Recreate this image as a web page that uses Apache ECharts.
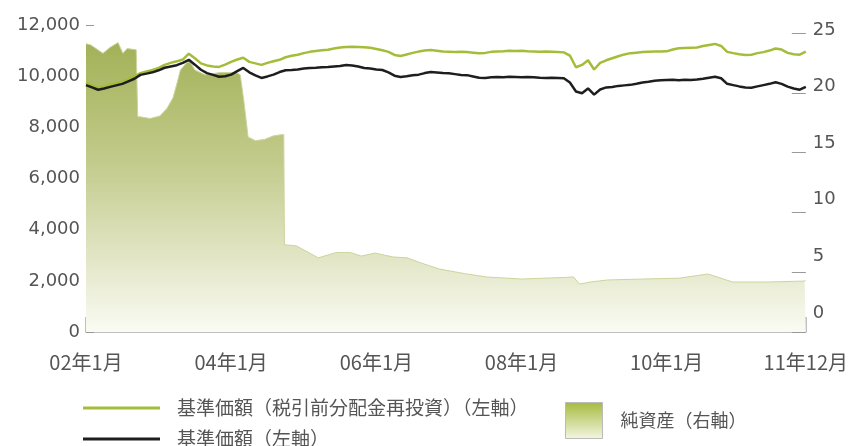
<!DOCTYPE html>
<html>
<head>
<meta charset="utf-8">
<script src="https://cdn.jsdelivr.net/npm/echarts@6/dist/echarts.min.js"></script>
<style>
  html, body { margin: 0; padding: 0; background: #fff; }
  #chart { width: 851px; height: 446px; }
</style>
</head>
<body>
<div id="chart"></div>
<script>
  // 横軸：2002年1月 = 0 … 2011年12月 = 119（月番号）
  const xTickMonths = [0, 24, 48, 72, 96, 119];
  const xTickLabels = ['02年1月', '04年1月', '06年1月', '08年1月', '10年1月', '11年12月'];
  const rightTicks = [0, 5, 10, 15, 20, 25];

  // 基準価額（税引前分配金再投資）月次
  const navReinvest = [
    9750, 9640, 9550, 9600, 9680, 9720, 9780, 9880, 9980, 10120, 10180, 10240,
    10320, 10440, 10520, 10580, 10650, 10880, 10700, 10500, 10420, 10380, 10360, 10450,
    10560, 10650, 10720, 10560, 10500, 10440, 10520, 10580, 10640, 10740, 10800, 10840,
    10900, 10950, 10980, 11010, 11030, 11080, 11120, 11140, 11150, 11140, 11130, 11110,
    11060, 11010, 10950, 10830, 10790, 10850, 10910, 10960, 11000, 11020, 10990, 10960,
    10950, 10940, 10950, 10940, 10920, 10900, 10910, 10950, 10960, 10970, 10990, 10980,
    10990, 10970, 10960, 10950, 10960, 10950, 10940, 10930, 10800, 10350, 10440, 10620,
    10260, 10520, 10620, 10700, 10780, 10850, 10900, 10920, 10940, 10950, 10960, 10960,
    10970, 11040, 11090, 11100, 11110, 11120, 11180, 11220, 11260, 11180, 10950, 10900,
    10860, 10830, 10840, 10900, 10940, 11000, 11080, 11040, 10910, 10860, 10840, 10960
  ];

  // 基準価額 月次
  const nav = [
    9650, 9560, 9470, 9520, 9580, 9640, 9700, 9800, 9900, 10050, 10100, 10150,
    10230, 10330, 10380, 10430, 10520, 10640, 10450, 10250, 10120, 10050, 9980, 10000,
    10060, 10200, 10320, 10150, 10030, 9930, 9990, 10060, 10160, 10230, 10240, 10260,
    10300, 10320, 10330, 10350, 10360, 10380, 10400, 10440, 10420, 10380, 10320, 10300,
    10260, 10240, 10150, 10020, 9970, 10000, 10040, 10060, 10120, 10160, 10140, 10120,
    10110, 10080, 10050, 10040, 9990, 9940, 9930, 9960, 9970, 9960, 9980, 9970,
    9960, 9970, 9960, 9940, 9930, 9940, 9930, 9920, 9750, 9400, 9330, 9520,
    9280, 9480, 9560, 9580, 9620, 9640, 9660, 9700, 9750, 9780, 9820, 9840,
    9850, 9860, 9840, 9860, 9850, 9870, 9900, 9940, 9980, 9920, 9700, 9650,
    9600, 9560, 9550, 9600, 9650, 9700, 9760, 9700, 9590, 9520, 9470, 9580
  ];

  // 純資産（右軸） [月番号, 値]
  const netAssets = [
    [0, 24.1], [0.8, 24.0], [2.8, 23.3], [4.0, 23.8], [5.3, 24.2], [6.1, 23.3],
    [6.8, 23.7], [8.3, 23.6], [8.5, 23.6], [8.55, 18.0], [8.9, 18.0], [10.6, 17.85],
    [12.2, 18.06], [13.4, 18.7], [14.4, 19.6], [15.1, 20.9], [15.6, 21.9], [16.6, 22.5],
    [17.2, 22.6], [18.0, 21.9], [19.7, 21.5], [22.2, 21.7], [24.8, 21.7], [25.5, 21.5],
    [26.1, 19.3], [26.8, 16.3], [28.0, 16.0], [29.5, 16.1], [31.0, 16.4], [32.3, 16.5],
    [32.7, 16.5], [32.8, 7.3], [34.8, 7.2], [38.4, 6.2], [41.4, 6.65], [43.7, 6.65],
    [45.5, 6.35], [47.8, 6.6], [50.8, 6.27], [53.1, 6.2], [55.4, 5.77], [58.4, 5.27],
    [62.6, 4.88], [66.2, 4.6], [72.0, 4.43], [79.1, 4.56], [80.6, 4.6], [81.6, 4.0],
    [83.4, 4.18], [86.2, 4.35], [92.2, 4.43], [98.1, 4.5], [102.8, 4.85], [106.9, 4.18],
    [112.9, 4.18], [118.8, 4.26], [119, 4.3]
  ];

  const fontJP = '"Noto Sans CJK JP", "Noto Sans", sans-serif';
  const fontNum = '"DejaVu Sans", sans-serif';

  const chart = echarts.init(document.getElementById('chart'));

  const option = {
    backgroundColor: '#fff',
    animation: false,
    grid: { left: 86, right: 45, top: 25, bottom: 114 },
    legend: [
      {
        orient: 'vertical',
        left: 83,
        top: 398,
        height: 80,
        padding: 0,
        icon: 'rect',
        itemWidth: 77,
        itemHeight: 3,
        itemGap: 11,
        textStyle: {
          fontFamily: fontJP, fontSize: 19, color: '#555', lineHeight: 20,
          padding: [0, 0, 0, 12]
        },
        data: ['基準価額（税引前分配金再投資）（左軸）', '基準価額（左軸）']
      },
      {
        left: 565,
        top: 402,
        padding: 0,
        itemWidth: 37,
        itemHeight: 36,
        textStyle: {
          fontFamily: fontJP, fontSize: 18, color: '#555',
          padding: [0, 0, 0, 13]
        },
        data: [{
          name: '純資産（右軸）',
          icon: 'rect',
          itemStyle: {
            color: {
              type: 'linear', x: 0, y: 0, x2: 0, y2: 1,
              colorStops: [
                { offset: 0, color: '#a6ba3c' },
                { offset: 1, color: '#f4f6e4' }
              ]
            },
            borderColor: '#bbb',
            borderWidth: 1
          }
        }]
      }
    ],
    xAxis: {
      type: 'value',
      min: 0,
      max: 119,
      splitLine: { show: false },
      axisLine: { show: true, lineStyle: { color: '#aaa', width: 1.5 } },
      axisTick: {
        show: true, inside: true, length: 15, customValues: xTickMonths,
        lineStyle: { color: '#aaa', width: 1.5 }
      },
      axisLabel: {
        customValues: xTickMonths,
        margin: 20,
        fontFamily: fontJP,
        fontSize: 20,
        color: '#555',
        formatter: (v) => xTickLabels[xTickMonths.indexOf(v)]
      }
    },
    yAxis: [
      {
        type: 'value',
        min: 0,
        max: 12000,
        interval: 2000,
        splitLine: { show: false },
        axisLine: { show: false },
        axisTick: { show: true, inside: true, length: 8, lineStyle: { color: '#999' } },
        axisLabel: {
          margin: 6,
          fontFamily: fontNum,
          fontSize: 18,
          color: '#555',
          formatter: (v) => v.toLocaleString('en-US')
        }
      },
      {
        // 純資産用の軸（目盛りのみ）
        type: 'value',
        position: 'right',
        min: 0,
        max: 25.67,
        splitLine: { show: false },
        axisLine: { show: false },
        axisTick: {
          show: true, inside: true, length: 14, customValues: rightTicks,
          lineStyle: { color: '#999' }
        },
        axisLabel: { show: false }
      },
      {
        // 右軸の数字（元の図では目盛りと少しずれている）
        type: 'value',
        position: 'right',
        min: -1.68,
        max: 25.44,
        splitLine: { show: false },
        axisLine: { show: false },
        axisTick: { show: false },
        axisLabel: {
          customValues: rightTicks,
          margin: 7,
          fontFamily: fontNum,
          fontSize: 18,
          color: '#555'
        }
      }
    ],
    series: [
      {
        name: '純資産（右軸）',
        type: 'line',
        yAxisIndex: 1,
        symbol: 'none',
        data: netAssets,
        lineStyle: { color: '#cdd49c', width: 1 },
        itemStyle: { color: '#a6ba3c' },
        areaStyle: {
          opacity: 1,
          color: {
            type: 'linear', x: 0, y: 25, x2: 0, y2: 332, global: true,
            colorStops: [
              { offset: 0, color: '#9dae50' },
              { offset: 0.45, color: '#c3cb8c' },
              { offset: 1, color: '#fafbf3' }
            ]
          }
        },
        z: 1
      },
      {
        name: '基準価額（税引前分配金再投資）（左軸）',
        type: 'line',
        yAxisIndex: 0,
        symbol: 'none',
        data: navReinvest.map((v, i) => [i, v]),
        lineStyle: { color: '#a3bd3a', width: 2.5 },
        itemStyle: { color: '#a3bd3a' },
        z: 2
      },
      {
        name: '基準価額（左軸）',
        type: 'line',
        yAxisIndex: 0,
        symbol: 'none',
        data: nav.map((v, i) => [i, v]),
        lineStyle: { color: '#1e1e1e', width: 2.5 },
        itemStyle: { color: '#1e1e1e' },
        z: 3
      }
    ]
  };

  chart.setOption(option);
</script>
</body>
</html>
